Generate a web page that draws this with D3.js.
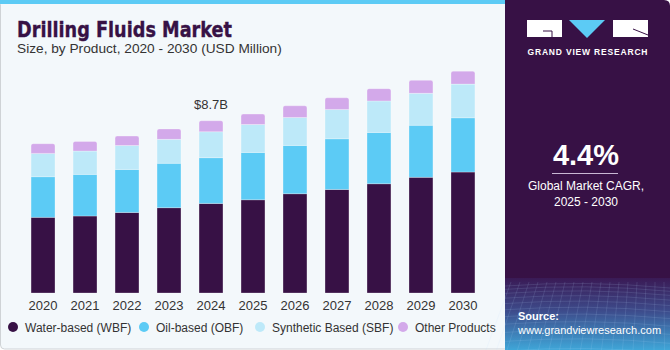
<!DOCTYPE html>
<html>
<head>
<meta charset="utf-8">
<script src="https://cdn.jsdelivr.net/npm/d3@7"></script>
<style>
  body { margin: 0; background: #fff; }
  text { font-family: "Liberation Sans", Arial, sans-serif; }
</style>
</head>
<body>
<div id="chart"></div>
<script>
// values in USD million
const years = ["2020", "2021", "2022", "2023", "2024", "2025", "2026", "2027", "2028", "2029", "2030"];
const waterBased = [3820, 3890, 4070, 4310, 4525, 4710, 5015, 5230, 5520, 5840, 6110];
const oilBased = [2055, 2100, 2170, 2240, 2310, 2390, 2440, 2560, 2590, 2630, 2740];
const synthetic = [1175, 1180, 1210, 1210, 1310, 1410, 1410, 1480, 1590, 1615, 1700];
const other = [490, 485, 475, 525, 555, 525, 590, 590, 620, 655, 655];
const seriesNames = ["Water-based (WBF)", "Oil-based (OBF)", "Synthetic Based (SBF)", "Other Products"];
const colors = ["#371145", "#5ccbf5", "#bde9f9", "#d3a9ea"];

const W = 670, H = 350;
const svg = d3.select("#chart").append("svg")
    .attr("width", W)
    .attr("height", H);

const defs = svg.append("defs");
const grad = defs.append("linearGradient")
    .attr("id", "foot")
    .attr("x1", 0).attr("y1", 0).attr("x2", 0).attr("y2", 1);
grad.append("stop").attr("offset", "0%").attr("stop-color", "#3a1a55");
grad.append("stop").attr("offset", "45%").attr("stop-color", "#3d4a8a");
grad.append("stop").attr("offset", "100%").attr("stop-color", "#3fa6d8");

// left panel
svg.append("rect")
    .attr("x", 0.5).attr("y", 0.5)
    .attr("width", 515).attr("height", H - 1.5)
    .attr("rx", 4)
    .attr("fill", "#f3f8fb")
    .attr("stroke", "#cfd3d6");
svg.append("rect")
    .attr("x", 0).attr("y", 0)
    .attr("width", 508).attr("height", 4)
    .attr("fill", "#5ccbf5");

svg.append("text")
    .attr("x", 17).attr("y", 37)
    .attr("font-size", 22)
    .attr("font-weight", 900)
    .attr("fill", "#371145")
    .attr("stroke", "#371145")
    .attr("stroke-width", 0.4)
    .style("font-family", "'DejaVu Sans', sans-serif")
    .attr("textLength", 215)
    .attr("lengthAdjust", "spacingAndGlyphs")
    .text("Drilling Fluids Market");
svg.append("text")
    .attr("x", 17).attr("y", 53)
    .attr("font-size", 13.7)
    .attr("fill", "#333")
    .text("Size, by Product, 2020 - 2030 (USD Million)");

// stacked bars
const table = years.map((yr, i) => ({
    year: yr,
    wbf: waterBased[i], obf: oilBased[i], sbf: synthetic[i], oth: other[i]
}));
const keys = ["wbf", "obf", "sbf", "oth"];
const stacked = d3.stack().keys(keys)(table);

const x = d3.scaleBand()
    .domain(years)
    .range([13, 493])
    .padding(0.43);

const y = d3.scaleLinear()
    .domain([0, 10000])
    .range([293, 95]);

const layers = svg.selectAll(".layer")
    .data(stacked)
    .enter().append("g")
    .attr("class", "layer")
    .attr("fill", (d, i) => colors[i]);

layers.each(function (layer, li) {
    const g = d3.select(this);
    g.selectAll("path")
        .data(layer)
        .enter().append("path")
        .attr("d", d => {
            const x0 = x(d.data.year), w = x.bandwidth();
            const yt = y(d[1]), yb = y(d[0]);
            const r = li === keys.length - 1 ? 2 : 0;
            return "M" + x0 + "," + yb +
                "V" + (yt + r) +
                (r ? "Q" + x0 + "," + yt + " " + (x0 + r) + "," + yt : "") +
                "H" + (x0 + w - r) +
                (r ? "Q" + (x0 + w) + "," + yt + " " + (x0 + w) + "," + (yt + r) : "") +
                "V" + yb + "Z";
        })
        .attr("stroke", "rgba(255,255,255,0.35)")
        .attr("stroke-width", 0.8);
});

// total label on 2024
const i24 = years.indexOf("2024");
const total24 = waterBased[i24] + oilBased[i24] + synthetic[i24] + other[i24];
svg.append("text")
    .attr("x", x("2024") + x.bandwidth() / 2)
    .attr("y", y(total24) - 12)
    .attr("text-anchor", "middle")
    .attr("font-size", 13)
    .attr("fill", "#333")
    .text("$" + (total24 / 1000).toFixed(1) + "B");

// x axis labels
const xAxis = d3.axisBottom(x).tickSize(0).tickPadding(8);
const gx = svg.append("g")
    .attr("transform", "translate(0,293)")
    .call(xAxis);
gx.select(".domain").remove();
gx.selectAll("text")
    .attr("font-size", 13)
    .attr("fill", "#333")
    .style("font-family", "'Liberation Sans', Arial, sans-serif");

// legend
const legendX = [13, 144, 260, 403];
const legend = svg.selectAll(".legend")
    .data(seriesNames)
    .enter().append("g")
    .attr("class", "legend")
    .attr("transform", (d, i) => "translate(" + legendX[i] + ",327)");
legend.append("circle")
    .attr("r", 5)
    .attr("fill", (d, i) => colors[i]);
legend.append("text")
    .attr("x", 12).attr("y", 4.5)
    .attr("font-size", 12)
    .attr("fill", "#333")
    .text(d => d);

// right panel
const px = 505;
const panel = svg.append("g");
panel.append("path")
    .attr("d", "M" + px + ",0H" + (W - 6) + "Q" + W + ",0 " + W + ",6V" + H + "H" + px + "Z")
    .attr("fill", "#371145");
panel.append("rect")
    .attr("x", px).attr("y", 278)
    .attr("width", W - px).attr("height", H - 278)
    .attr("fill", "url(#foot)");

// faint grid in the footer
const gridG = panel.append("g")
    .attr("stroke", "rgba(190,220,255,0.18)")
    .attr("stroke-width", 0.7)
    .attr("fill", "none");
d3.range(0, 14).forEach(k => {
    const yy = 286 + k * k * 0.35 + k * 3;
    gridG.append("path").attr("d", "M" + px + "," + yy + "Q585," + (yy - 6) + " " + W + "," + (yy + 2));
});
d3.range(0, 20).forEach(k => {
    const xx = px + k * 9;
    gridG.append("path").attr("d", "M" + (xx + 6) + ",282L" + (xx - 4 + (k - 10) * 1.5) + "," + H);
});

// logo
const logo = panel.append("g").attr("fill", "#fff");
logo.append("rect").attr("x", 527).attr("y", 20).attr("width", 35).attr("height", 17);
logo.append("polygon")
    .attr("points", "569,20 605,20 587,38")
    .attr("fill", "#5ccbf5");
logo.append("rect").attr("x", 613).attr("y", 20).attr("width", 35).attr("height", 17);
logo.append("path")
    .attr("d", "M543,31H552V37")
    .attr("stroke", "#371145").attr("stroke-width", 1).attr("fill", "none");
logo.append("path")
    .attr("d", "M633,29L648,35")
    .attr("stroke", "#371145").attr("stroke-width", 1).attr("fill", "none");
panel.append("text")
    .attr("x", 587.5).attr("y", 55)
    .attr("text-anchor", "middle")
    .attr("font-size", 8.5)
    .attr("font-weight", 700)
    .attr("fill", "#fff")
    .attr("textLength", 120)
    .attr("lengthAdjust", "spacing")
    .text("GRAND VIEW RESEARCH");

panel.append("text")
    .attr("x", 586).attr("y", 165)
    .attr("text-anchor", "middle")
    .attr("font-size", 29)
    .attr("font-weight", 700)
    .attr("fill", "#fff")
    .text("4.4%");
panel.append("line")
    .attr("x1", 552).attr("x2", 618)
    .attr("y1", 173.5).attr("y2", 173.5)
    .attr("stroke", "#c9b8d4").attr("stroke-width", 1);
panel.append("text")
    .attr("x", 586).attr("y", 190)
    .attr("text-anchor", "middle")
    .attr("font-size", 12)
    .attr("fill", "#fff")
    .text("Global Market CAGR,");
panel.append("text")
    .attr("x", 586).attr("y", 206)
    .attr("text-anchor", "middle")
    .attr("font-size", 12)
    .attr("fill", "#fff")
    .text("2025 - 2030");

panel.append("text")
    .attr("x", 518).attr("y", 320)
    .attr("font-size", 11)
    .attr("font-weight", 700)
    .attr("fill", "#fff")
    .text("Source:");
panel.append("text")
    .attr("x", 518).attr("y", 334)
    .attr("font-size", 11)
    .attr("fill", "#fff")
    .text("www.grandviewresearch.com");
</script>
</body>
</html>
